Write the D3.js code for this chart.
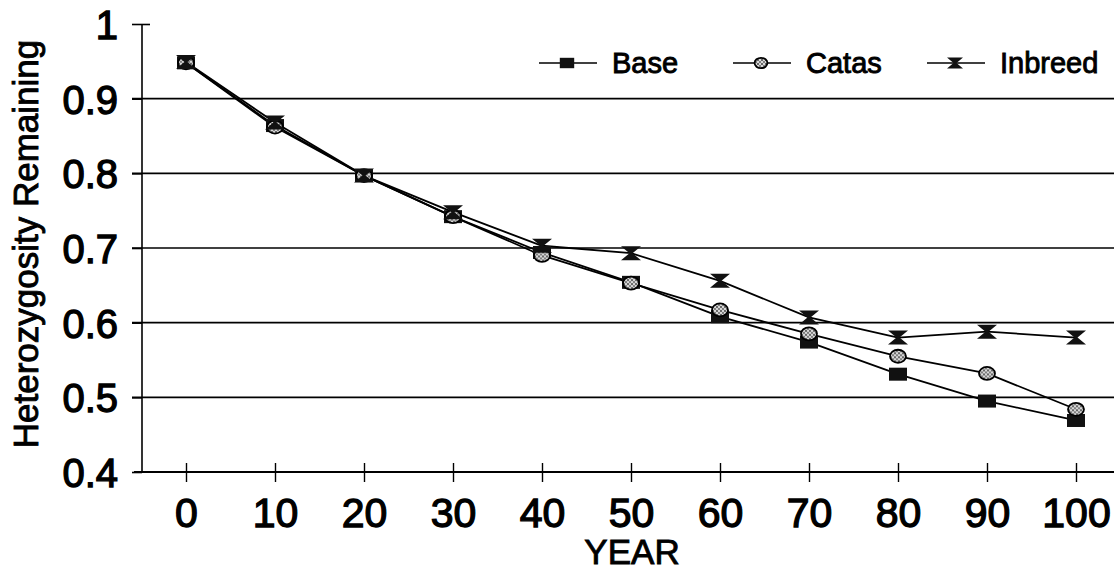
<!DOCTYPE html>
<html>
<head>
<meta charset="utf-8">
<script src="https://cdn.jsdelivr.net/npm/d3@7"></script>
<style>
  body { margin: 0; background: #fff; }
  svg text { font-family: "Liberation Sans", Arial, sans-serif; fill: #000; }
</style>
</head>
<body>
<div id="chart"></div>
<script>
var years = [0, 10, 20, 30, 40, 50, 60, 70, 80, 90, 100]
var base = [0.948, 0.864, 0.797, 0.742, 0.694, 0.654, 0.608, 0.574, 0.531, 0.495, 0.469]
var catas = [0.948, 0.862, 0.797, 0.742, 0.690, 0.653, 0.617, 0.585, 0.555, 0.532, 0.484]
var inbreed = [0.949, 0.868, 0.797, 0.748, 0.703, 0.693, 0.656, 0.607, 0.580, 0.588, 0.580]
var yTicks = [0.4, 0.5, 0.6, 0.7, 0.8, 0.9, 1]

var series = [
  {name: 'Base', values: base, marker: 'square'},
  {name: 'Catas', values: catas, marker: 'ellipse'},
  {name: 'Inbreed', values: inbreed, marker: 'bowtie'}
]

var W = 1114, H = 572
var svg = d3.select('#chart').append('svg')
  .attr('width', W).attr('height', H)

var defs = svg.append('defs')
var pat = defs.append('pattern')
  .attr('id', 'stipple')
  .attr('patternUnits', 'userSpaceOnUse')
  .attr('width', 4).attr('height', 4)
pat.append('rect').attr('width', 4).attr('height', 4).attr('fill', '#d8d8d8')
pat.append('circle').attr('cx', 1).attr('cy', 1).attr('r', 0.9).attr('fill', '#333')
pat.append('circle').attr('cx', 3).attr('cy', 3).attr('r', 0.9).attr('fill', '#555')

var x = d3.scaleLinear().domain([0, 100]).range([186, 1076])
var y = d3.scaleLinear().domain([0.4, 1]).range([472, 24])

// gridlines
svg.append('g').selectAll('line')
  .data(yTicks.filter(d => d > 0.4 && d < 1))
  .enter().append('line')
  .attr('x1', 132).attr('x2', W)
  .attr('y1', d => y(d)).attr('y2', d => y(d))
  .attr('stroke', '#000').attr('stroke-width', 1.6)

// y axis
var yAxis = d3.axisLeft(y).tickValues(yTicks).tickSize(10).tickPadding(14)
  .tickFormat(d => d === 1 ? '1' : d3.format('.1f')(d))
var gy = svg.append('g').attr('transform', 'translate(142,0)').call(yAxis)
gy.select('.domain').attr('stroke-width', 1.6).attr('d', 'M0,' + y(1) + 'V' + y(0.4))
gy.selectAll('.tick line').attr('stroke-width', 1.6)
gy.selectAll('.tick').filter(d => d === 1).select('line').attr('x1', 8).attr('x2', -10)
gy.selectAll('.tick text')
  .attr('font-size', 40).attr('stroke', '#000').attr('stroke-width', 1.3)
  .attr('dx', 0).attr('dy', '0.36em')
  .style('font-family', '"Liberation Sans", Arial, sans-serif')

// x axis
svg.append('line')
  .attr('x1', 134).attr('x2', W)
  .attr('y1', y(0.4)).attr('y2', y(0.4))
  .attr('stroke', '#000').attr('stroke-width', 1.8)
var xAxis = d3.axisBottom(x).tickValues(years).tickSize(10).tickPadding(16)
var gx = svg.append('g').attr('transform', 'translate(0,' + y(0.4) + ')').call(xAxis)
gx.select('.domain').remove()
gx.selectAll('.tick line').attr('y1', -9).attr('y2', 10).attr('stroke-width', 1.4)
gx.selectAll('.tick text')
  .attr('font-size', 41).attr('stroke', '#000').attr('stroke-width', 1.3)
  .style('font-family', '"Liberation Sans", Arial, sans-serif')

svg.append('text')
  .attr('x', 632).attr('y', 564)
  .attr('text-anchor', 'middle')
  .attr('font-size', 35)
  .attr('stroke', '#000').attr('stroke-width', 0.9)
  .text('YEAR')

svg.append('text')
  .attr('transform', 'translate(38,244) rotate(-90)')
  .attr('text-anchor', 'middle')
  .attr('font-size', 35)
  .attr('stroke', '#000').attr('stroke-width', 0.9)
  .text('Heterozygosity Remaining')

function drawMarker(g, type, s) {
  if (type === 'square') {
    g.append('rect').attr('x', -9 * s).attr('y', -6.5 * s)
      .attr('width', 18 * s).attr('height', 13 * s).attr('fill', '#111')
  } else if (type === 'ellipse') {
    g.append('ellipse').attr('rx', 8 * s).attr('ry', 6.5 * s)
      .attr('fill', 'url(#stipple)').attr('stroke', '#000').attr('stroke-width', 1.8)
  } else {
    var w = 10 * s, h = 7 * s
    g.append('path')
      .attr('d', 'M' + (-w) + ',' + (-h) + 'H' + w + 'L1.5,0L' + w + ',' + h + 'H' + (-w) + 'L-1.5,0Z')
      .attr('fill', '#111')
  }
}

var line = d3.line().x((d, i) => x(years[i])).y(d => y(d))

series.forEach(function(s) {
  svg.append('path')
    .attr('d', line(s.values))
    .attr('fill', 'none').attr('stroke', '#000').attr('stroke-width', 1.8)
})

series.forEach(function(s) {
  svg.append('g').selectAll('g')
    .data(s.values)
    .enter().append('g')
    .attr('transform', (d, i) => 'translate(' + x(years[i]) + ',' + y(d) + ')')
    .each(function() { drawMarker(d3.select(this), s.marker, 1) })
})

// legend
var legendX = [539, 733, 927]
var leg = svg.append('g').selectAll('g')
  .data(series).enter().append('g')
  .attr('transform', (d, i) => 'translate(' + legendX[i] + ',63)')
leg.append('line').attr('x1', 0).attr('x2', 58).attr('stroke', '#000').attr('stroke-width', 1.6)
leg.each(function(d) {
  var g = d3.select(this).append('g').attr('transform', 'translate(28,0)')
  drawMarker(g, d.marker, 0.8)
})
leg.append('text')
  .attr('x', 73).attr('dy', '0.36em')
  .attr('font-size', 29).attr('stroke', '#000').attr('stroke-width', 0.9)
  .text(d => d.name)
</script>
</body>
</html>
